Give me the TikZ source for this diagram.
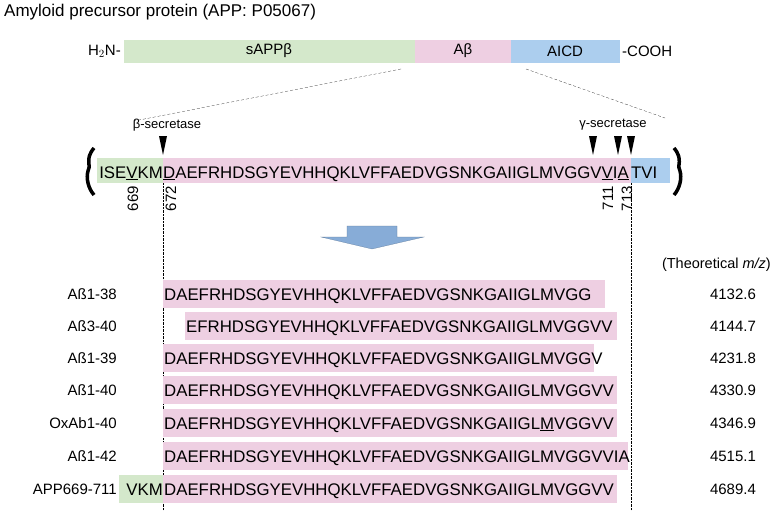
\documentclass[tikz,border=0pt]{standalone}
\usepackage{fontspec}
\setmainfont{Liberation Sans}
\definecolor{seggreen}{RGB}{212,232,203}
\definecolor{segpink}{RGB}{238,207,226}
\definecolor{segblue}{RGB}{172,206,238}
\definecolor{arrowblue}{RGB}{135,172,215}
\tikzset{
  seq/.style={font=\fontsize{16.8}{17}\selectfont,anchor=base west,inner sep=0pt},
  lab/.style={font=\fontsize{15}{15}\selectfont,inner sep=0pt},
  cut/.style={fill=black,draw=none},
  guide/.style={densely dotted,thin},
  brace/.style={line width=3.5pt},
}
\begin{document}
\begin{tikzpicture}[x=1pt,y=-1pt]
\useasboundingbox (0,0) rectangle (772,511);

% title and domain bar
\node[anchor=west,font=\fontsize{17}{17}\selectfont,inner sep=0pt] (title) at (4,12) {Amyloid precursor protein (APP: P05067)};
\fill[seggreen] (124,40) rectangle (415,63);
\fill[segpink] (415,40) rectangle (511,63);
\fill[segblue] (511,40) rectangle (620,63);
\node[lab] (sappb) at (269,51) {sAPPβ};
\node[lab] (ab) at (463,51) {Aβ};
\node[lab] (aicd) at (565,51) {AICD};
\node[lab,anchor=east] (nterm) at (121,51) {H$_2$N-};
\node[lab,anchor=west] (cterm) at (622,51) {-COOH};
\draw[densely dashed,very thin] (401,69) -- (134,121);
\draw[densely dashed,very thin] (526,69) -- (665,118);

% sequence band
\fill[seggreen] (97,158) rectangle (163,183);
\fill[segpink] (163,158) rectangle (631,183);
\fill[segblue] (631,158) rectangle (670,183);
\node[seq,anchor=base east] (seqL) at (163,178) {ISE\underline{V}KM};
\node[seq] (seqM) at (163,178) {\underline{D}AEFRHDSGYEVHHQKLVFFAEDVGSNKGAIIGLMVGGV\underline{V}I\underline{A}};
\node[seq] (seqR) at (631,178) {TVI};
\draw[brace] (94,148) .. controls (84,160) and (92,166) .. (88,171) .. controls (86,178) and (88,188) .. (94,195);
\draw[brace] (674,148) .. controls (684,160) and (676,166) .. (680,171) .. controls (682,178) and (680,188) .. (674,195);
\foreach \p/\t in {133/669,171/672,608/711,627/713}
  \node[lab,rotate=90,anchor=east] at (\p,186) {\t};
\foreach \p in {163,593,618,631}
  \fill[cut] (\p-4,136) -- (\p+4,136) -- (\p,155) -- cycle;
\node[font=\fontsize{13}{13}\selectfont] (bsec) at (167,125) {β-secretase};
\node[font=\fontsize{13}{13}\selectfont] (gsec) at (613,125) {γ-secretase};
\draw[guide] (163,183) -- (163,511);
\draw[guide] (631,183) -- (631,511);

% arrow
\draw[fill=arrowblue,draw=arrowblue!70!black,very thin] (347,226) -- (397,226) -- (397,237) -- (424,237)
  -- (372,249) -- (321,237) -- (347,237) -- cycle;

% peptide table
\node[lab,anchor=east,font=\fontsize{14.5}{15}\selectfont] (mzhead) at (771,265) {(Theoretical \textit{m/z})};
\foreach \y/\name/\x/\e/\s/\mz in {
  294/Aß1-38/163/605/DAEFRHDSGYEVHHQKLVFFAEDVGSNKGAIIGLMVGG/4132.6,
  326/Aß3-40/185/617/EFRHDSGYEVHHQKLVFFAEDVGSNKGAIIGLMVGGVV/4144.7,
  358/Aß1-39/163/594/DAEFRHDSGYEVHHQKLVFFAEDVGSNKGAIIGLMVGGV/4231.8,
  390/Aß1-40/163/617/DAEFRHDSGYEVHHQKLVFFAEDVGSNKGAIIGLMVGGVV/4330.9,
  423/OxAb1-40/163/617/DAEFRHDSGYEVHHQKLVFFAEDVGSNKGAIIGL\underline{M}VGGVV/4346.9,
  456/Aß1-42/163/628/DAEFRHDSGYEVHHQKLVFFAEDVGSNKGAIIGLMVGGVVIA/4515.1,
  489/APP669-711/163/617/DAEFRHDSGYEVHHQKLVFFAEDVGSNKGAIIGLMVGGVV/4689.4}{
  \fill[segpink] (\x,\y-14) rectangle (\e,\y+14);
  \node[lab,anchor=east] at (117,\y) {\name};
  \node[seq] at (\x+1,\y+6) {\s};
  \node[lab] at (733,\y) {\mz};
}
\fill[seggreen] (119,475) rectangle (163,503);
\node[seq,anchor=base east] (vkm) at (163,495) {VKM};
\end{tikzpicture}
\end{document}
